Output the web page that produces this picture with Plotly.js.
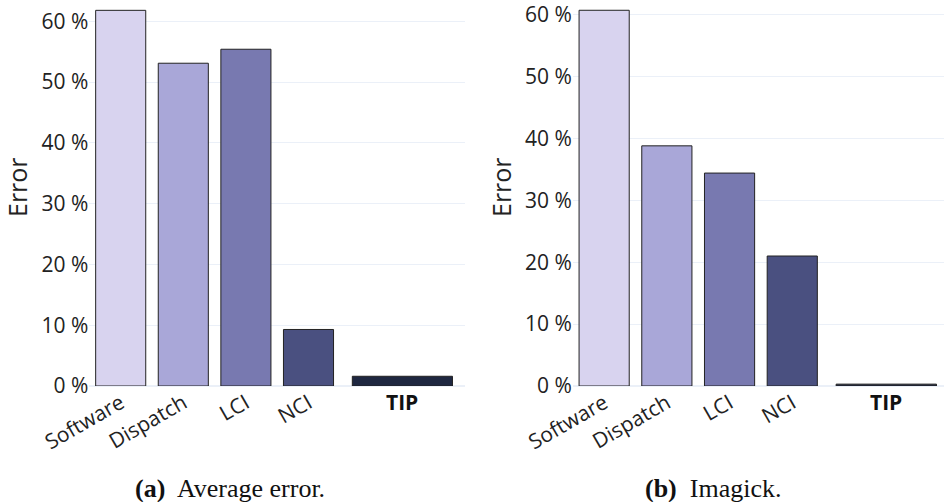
<!DOCTYPE html>
<html>
<head>
<meta charset="utf-8">
<script src="https://cdn.plot.ly/plotly-3.0.1.min.js"></script>
<style>html,body{margin:0;padding:0;background:#fff;}#chart{width:944px;height:502px;}</style>
</head>
<body>
<div id="chart"></div>
<script>
// Data
const categories = ["Software", "Dispatch", "LCI", "NCI", "TIP"];
const avgError = [61.8, 53.1, 55.4, 9.3, 1.6];      // (a) Average error, %
const imagickError = [60.7, 38.8, 34.4, 21.0, 0.3]; // (b) Imagick, %
const yTickVals = [0, 10, 20, 30, 40, 50, 60];
const yTickText = ["0 %", "10 %", "20 %", "30 %", "40 %", "50 %", "60 %"];
const captionA = "<b>(a)</b>  Average error.";
const captionB = "<b>(b)</b>  Imagick.";

// Styling
const barColors = ["#d8d3ef", "#a9a7d8", "#7879b0", "#4a5080", "#1e2740"];
const xPos = [0, 1, 2, 3, 4.5];
const widths = [0.8, 0.8, 0.8, 0.8, 1.6];
const W = 944, H = 502;
const fx = p => p / W;
const fy = p => 1 - p / H;

function barTrace(vals, xa, ya) {
  return {
    type: "bar", x: xPos, y: vals, width: widths,
    xaxis: xa, yaxis: ya,
    text: categories, textposition: "none", hoverinfo: "text+y",
    marker: {color: barColors, line: {color: "#222", width: 1}},
    showlegend: false
  };
}

const tickFont = {family: "Open Sans", size: 21, color: "#222"};
const gridC = "#EBF0F8";

function xAxis(domain, range) {
  return {
    domain: domain, range: range, type: "linear",
    tickvals: xPos.slice(0, 4), ticktext: categories.slice(0, 4),
    tickangle: -30, tickfont: tickFont, showgrid: false, zeroline: false,
    showline: false, ticks: "", fixedrange: true, ticklabeloverflow: "allow"
  };
}
function yAxis(domain, range, anchor) {
  return {
    domain: domain, range: range, anchor: anchor,
    tickmode: "array", tickvals: yTickVals, ticktext: yTickText, tickfont: tickFont,
    showgrid: true, gridcolor: gridC, gridwidth: 1,
    zeroline: true, zerolinecolor: gridC, zerolinewidth: 2,
    showline: false, ticks: "", fixedrange: true, ticklabeloverflow: "allow"
  };
}

const yDom = [fy(386), fy(0)];
const layout = {
  width: W, height: H,
  margin: {l: 0, r: 0, t: 0, b: 0},
  paper_bgcolor: "#fff", plot_bgcolor: "#fff",
  font: {family: "Open Sans", color: "#222"},
  xaxis: xAxis([fx(89.4), fx(465)], [-0.5, 5.5]),
  yaxis: yAxis(yDom, [0, 63.5], "x"),
  xaxis2: Object.assign(xAxis([fx(572.8), fx(944)], [-0.5, 5.42]), {anchor: "y2"}),
  yaxis2: yAxis(yDom, [0, 62.36], "x2"),
  bargap: 0.2,
  annotations: [
    {text: "Error", textangle: -90, xref: "paper", yref: "paper", x: fx(17), y: fy(187), xanchor: "center", yanchor: "middle", showarrow: false, font: {family: "Open Sans", size: 25, color: "#222"}},
    {text: "Error", textangle: -90, xref: "paper", yref: "paper", x: fx(501), y: fy(187), xanchor: "center", yanchor: "middle", showarrow: false, font: {family: "Open Sans", size: 25, color: "#222"}},
    {text: "<b>TIP</b>", xref: "x", yref: "paper", x: 4.5, y: fy(402), xanchor: "center", yanchor: "middle", showarrow: false, font: {family: "Open Sans", size: 21, color: "#111"}},
    {text: "<b>TIP</b>", xref: "x2", yref: "paper", x: 4.5, y: fy(402), xanchor: "center", yanchor: "middle", showarrow: false, font: {family: "Open Sans", size: 21, color: "#111"}},
    {text: captionA, xref: "paper", yref: "paper", x: fx(230), y: fy(488), xanchor: "center", yanchor: "middle", showarrow: false, font: {family: "Liberation Serif", size: 26, color: "#111"}},
    {text: captionB, xref: "paper", yref: "paper", x: fx(713), y: fy(488), xanchor: "center", yanchor: "middle", showarrow: false, font: {family: "Liberation Serif", size: 26, color: "#111"}}
  ]
};

Plotly.newPlot("chart", [barTrace(avgError, "x", "y"), barTrace(imagickError, "x2", "y2")], layout, {displayModeBar: false, staticPlot: true});
</script>
</body>
</html>
